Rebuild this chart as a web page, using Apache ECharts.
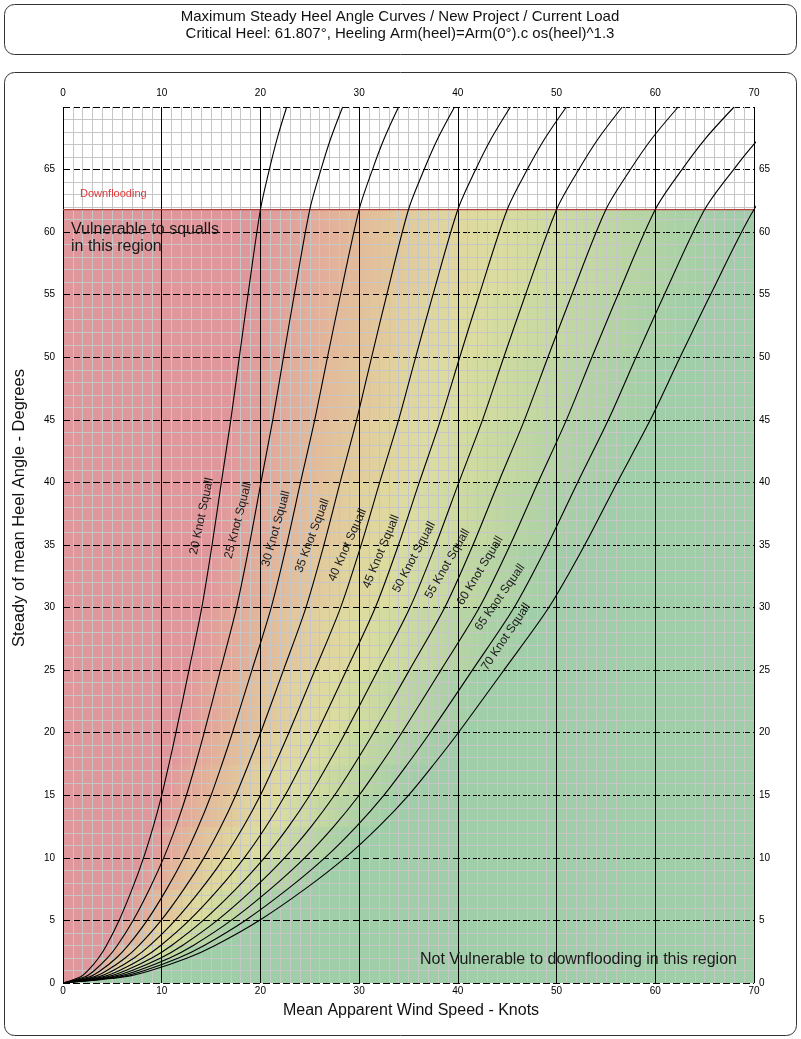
<!DOCTYPE html>
<html><head><meta charset="utf-8">
<script src="https://cdn.jsdelivr.net/npm/echarts@6/dist/echarts.min.js"></script>
<style>html,body{margin:0;padding:0;background:#fff}#c{width:801px;height:1039px}</style>
</head><body><div id="c"></div>
<script>
// ---------- DATA ----------
const titleLine1 = 'Maximum Steady Heel Angle Curves / New Project / Current Load';
const titleLine2 = 'Critical Heel: 61.807°, Heeling Arm(heel)=Arm(0°).c os(heel)^1.3';
const xAxisName = 'Mean Apparent Wind Speed - Knots';
const yAxisName = 'Steady of mean Heel Angle - Degrees';
const criticalHeel = 61.807;
const squallSpeeds = [20, 25, 30, 35, 40, 45, 50, 55, 60, 65, 70];
// heel angles (deg) at which each curve's mean wind speed (knots) was read
const heels = [0, 0.5, 1, 2, 3, 5, 7.5, 10, 12.5, 15, 17.5, 20, 25, 30, 35, 40, 45, 50, 55, 61.807, 65, 67.5, 70];
const squall20 = [0, 1.8, 2.54, 3.6, 4.4, 5.68, 7.0, 8.16, 9.14, 10.0, 10.74, 11.44, 12.76, 14.06, 15.1, 16.04, 17.0, 17.86, 18.74, 20.0, 20.9, 21.7, 22.66];
const squall25 = [0, 2.25, 3.18, 4.5, 5.5, 7.1, 8.75, 10.2, 11.43, 12.5, 13.43, 14.3, 15.95, 17.58, 18.88, 20.05, 21.25, 22.33, 23.43, 25.0, 26.13, 27.13, 28.33];
const squall30 = [0, 2.7, 3.81, 5.4, 6.6, 8.52, 10.5, 12.24, 13.71, 15.0, 16.11, 17.16, 19.14, 21.09, 22.65, 24.06, 25.5, 26.79, 28.11, 30.0, 31.35, 32.55, 33.99];
const squall35 = [0, 3.15, 4.45, 6.3, 7.7, 9.94, 12.25, 14.28, 16.0, 17.5, 18.8, 20.02, 22.33, 24.61, 26.43, 28.07, 29.75, 31.26, 32.8, 35.0, 36.58, 37.98, 39.66];
const squall40 = [0, 3.6, 5.08, 7.2, 8.8, 11.36, 14.0, 16.32, 18.28, 20.0, 21.48, 22.88, 25.52, 28.12, 30.2, 32.08, 34.0, 35.72, 37.48, 40.0, 41.8, 43.4, 45.32];
const squall45 = [0, 4.05, 5.72, 8.1, 9.9, 12.78, 15.75, 18.36, 20.57, 22.5, 24.17, 25.74, 28.71, 31.64, 33.98, 36.09, 38.25, 40.19, 42.17, 45.0, 47.03, 48.83, 50.99];
const squall50 = [0, 4.5, 6.35, 9.0, 11.0, 14.2, 17.5, 20.4, 22.85, 25.0, 26.85, 28.6, 31.9, 35.15, 37.75, 40.1, 42.5, 44.65, 46.85, 50.0, 52.25, 54.25, 56.65];
const squall55 = [0, 4.95, 6.99, 9.9, 12.1, 15.62, 19.25, 22.44, 25.14, 27.5, 29.54, 31.46, 35.09, 38.67, 41.53, 44.11, 46.75, 49.12, 51.54, 55.0, 57.48, 59.68, 62.32];
const squall60 = [0, 5.4, 7.62, 10.8, 13.2, 17.04, 21.0, 24.48, 27.42, 30.0, 32.22, 34.32, 38.28, 42.18, 45.3, 48.12, 51.0, 53.58, 56.22, 60.0, 62.7, 65.1, 67.98];
const squall65 = [0, 5.85, 8.26, 11.7, 14.3, 18.46, 22.75, 26.52, 29.71, 32.5, 34.91, 37.18, 41.47, 45.7, 49.08, 52.13, 55.25, 58.05, 60.91, 65.0, 67.93, 70.53, 73.65];
const squall70 = [0, 6.3, 8.89, 12.6, 15.4, 19.88, 24.5, 28.56, 31.99, 35.0, 37.59, 40.04, 44.66, 49.21, 52.85, 56.14, 59.5, 62.51, 65.59, 70.0, 73.15, 75.95, 79.31];
const squallCurves = [squall20, squall25, squall30, squall35, squall40, squall45, squall50, squall55, squall60, squall65, squall70];
// curve label anchors [knots, degrees]
const labelAnchors = [[14.05,37.3],[17.73,36.95],[21.58,36.3],[25.25,35.75],[28.82,35.0],[32.22,34.47],[35.56,34.03],[38.95,33.5],[42.25,32.95],[44.27,30.82],[44.88,27.66]];
const labelAngles = [78, 75.5, 74.5, 69.5, 66, 67.5, 62, 60, 59, 55, 56];
const xMin = 0, xMax = 70, xInterval = 10;
const yMin = 0, yMax = 70, yInterval = 5;

// ---------- STYLE ----------
const rampColors = ['#e0979c','#e2a79a','#e2b89a','#e2c89c','#e0d59e','#dcdca0','#d0dba0','#c4d8a2','#b6d4a4','#a9d0a6','#a0cea8'];
const FONT = '"Liberation Sans", Arial, sans-serif';

const chart = echarts.init(document.getElementById('c'), null, {renderer: 'canvas'});
const topIdx = heels.indexOf(criticalHeel);

function renderBackground(params, api) {
  const pt = (x, y) => api.coord([x, y]);
  const children = [];
  const left = [pt(0, 0)];
  for (let j = 0; j <= topIdx; j++) left.push(pt(squallCurves[0][j], heels[j]));
  left.push(pt(0, criticalHeel));
  children.push({type: 'polygon', shape: {points: left}, style: {fill: rampColors[0], stroke: rampColors[0], lineWidth: 1}});
  const last = squallCurves[squallCurves.length - 1];
  const right = [pt(xMax, 0)];
  for (let j = 0; j <= topIdx; j++) right.push(pt(last[j], heels[j]));
  right.push(pt(xMax, criticalHeel));
  children.push({type: 'polygon', shape: {points: right}, style: {fill: rampColors[10], stroke: rampColors[10], lineWidth: 1}});
  for (let i = 0; i < squallCurves.length - 1; i++) {
    const c0 = squallCurves[i], c1 = squallCurves[i + 1];
    for (let j = 0; j < topIdx; j++) {
      const a = pt(c0[j], heels[j]), b = pt(c0[j + 1], heels[j + 1]);
      const c = pt(c1[j + 1], heels[j + 1]), d = pt(c1[j], heels[j]);
      const xl = (a[0] + b[0]) / 2, xr = (c[0] + d[0]) / 2;
      const g = new echarts.graphic.LinearGradient(xl, 0, xr, 0, [
        {offset: 0, color: rampColors[i]}, {offset: 1, color: rampColors[i + 1]}], true);
      children.push({type: 'polygon', shape: {points: [a, b, c, d]}, style: {fill: g, stroke: g, lineWidth: 0.8}});
    }
  }
  return {type: 'group', children};
}

const series = [{
  type: 'custom', z: -1, silent: true, renderItem: renderBackground, data: [0], clip: true
}];
squallCurves.forEach((curve, i) => {
  series.push({
    type: 'line', name: squallSpeeds[i] + ' Knot Squall', silent: true, z: 5,
    data: curve.map((v, j) => [v, heels[j]]), showSymbol: false, smooth: 0.3, clip: true,
    lineStyle: {color: '#000', width: 1.1}
  });
});
series.push({
  type: 'line', silent: true, z: 4, data: [[xMin, criticalHeel], [xMax, criticalHeel]], showSymbol: false,
  lineStyle: {color: '#b5413f', width: 1.3}
});

const gridLeft = 63, gridTop = 107, gridW = 691, gridH = 876;
const xAxisCommon = {type: 'value', min: xMin, max: xMax, interval: xInterval,
  axisTick: {show: false}, axisLine: {show: false},
  axisLabel: {color: '#000', fontSize: 10, fontFamily: FONT}};
const yAxisCommon = {type: 'value', min: yMin, max: yMax, interval: yInterval,
  axisTick: {show: false}, axisLine: {show: false},
  axisLabel: {color: '#000', fontSize: 10, fontFamily: FONT, formatter: v => v === yMax ? '' : String(v)}};

chart.setOption({
  animation: false,
  grid: {left: gridLeft, top: gridTop, width: gridW, height: gridH, containLabel: false},
  xAxis: [
    Object.assign({}, xAxisCommon, {position: 'bottom',
      axisLabel: Object.assign({}, xAxisCommon.axisLabel, {margin: 3}),
      splitLine: {show: true, lineStyle: {color: '#000', width: 1}},
      minorTick: {show: false, splitNumber: 10},
      minorSplitLine: {show: true, lineStyle: {color: '#c6c6c6', width: 1}}}),
    Object.assign({}, xAxisCommon, {position: 'top',
      axisLabel: Object.assign({}, xAxisCommon.axisLabel, {margin: 9}),
      splitLine: {show: false}})
  ],
  yAxis: [
    Object.assign({}, yAxisCommon, {position: 'left',
      axisLabel: Object.assign({}, yAxisCommon.axisLabel, {margin: 8}),
      splitLine: {show: true, lineStyle: {color: '#000', width: 1, type: [7, 3]}},
      minorTick: {show: false, splitNumber: 5},
      minorSplitLine: {show: true, lineStyle: {color: '#c6c6c6', width: 1}}}),
    Object.assign({}, yAxisCommon, {position: 'right',
      axisLabel: Object.assign({}, yAxisCommon.axisLabel, {margin: 5}),
      splitLine: {show: false}})
  ],
  series: series
});

// ---------- annotations ----------
const graphics = [
  {type: 'rect', shape: {x: 4.5, y: 4.5, width: 792, height: 50, r: 10}, style: {fill: 'none', stroke: '#333', lineWidth: 1}, silent: true},
  {type: 'rect', shape: {x: 4.5, y: 72.5, width: 792, height: 963, r: 10}, style: {fill: 'none', stroke: '#333', lineWidth: 1}, silent: true},
  {type: 'text', x: 400, y: 17, style: {text: titleLine1, font: '15px ' + FONT, fill: '#111', textAlign: 'center', textVerticalAlign: 'middle'}},
  {type: 'text', x: 400, y: 34, style: {text: titleLine2, font: '15px ' + FONT, fill: '#111', textAlign: 'center', textVerticalAlign: 'middle'}},
  {type: 'text', x: 411, y: 1011, style: {text: xAxisName, font: '16px ' + FONT, fill: '#111', textAlign: 'center', textVerticalAlign: 'middle'}},
  {type: 'text', x: 19, y: 508, rotation: Math.PI / 2, style: {text: yAxisName, font: '16.5px ' + FONT, fill: '#111', textAlign: 'center', textVerticalAlign: 'middle'}},
  {type: 'text', x: 80, y: 194, z: 10, style: {text: 'Downflooding', font: '11px ' + FONT, fill: '#e0393c', textAlign: 'left', textVerticalAlign: 'middle'}},
  {type: 'text', x: 71, y: 230, z: 10, style: {text: 'Vulnerable to squalls', font: '16px ' + FONT, fill: '#1a1a1a', textAlign: 'left', textVerticalAlign: 'middle'}},
  {type: 'text', x: 71, y: 247, z: 10, style: {text: 'in this region', font: '16px ' + FONT, fill: '#1a1a1a', textAlign: 'left', textVerticalAlign: 'middle'}},
  {type: 'text', x: 420, y: 960, z: 10, style: {text: 'Not Vulnerable to downflooding in this region', font: '16px ' + FONT, fill: '#1a1a1a', textAlign: 'left', textVerticalAlign: 'middle'}}
];
labelAnchors.forEach((a, i) => {
  const p = chart.convertToPixel({xAxisIndex: 0, yAxisIndex: 0}, a);
  graphics.push({type: 'text', x: p[0], y: p[1], z: 10, rotation: labelAngles[i] * Math.PI / 180,
    style: {text: squallSpeeds[i] + ' Knot Squall', font: '12px ' + FONT, fill: '#1a1a1a', textAlign: 'center', textVerticalAlign: 'middle'}});
});
chart.setOption({graphic: graphics});
</script>
</body></html>
